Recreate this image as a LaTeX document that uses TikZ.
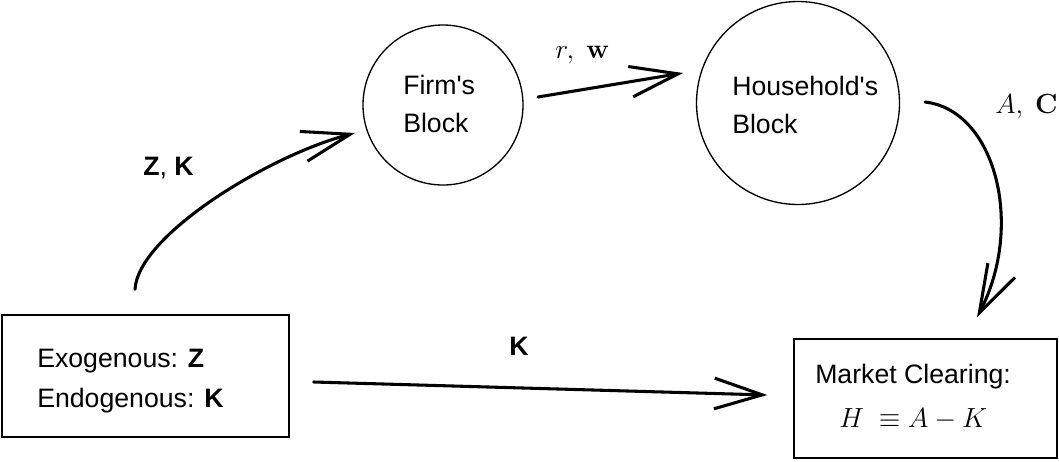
\documentclass[tikz,border=0pt]{standalone}
\usepackage[no-math]{fontspec}
\setmainfont[Ligatures=TeXOff]{Liberation Sans}
\usetikzlibrary{arrows.meta,calc}
\begin{document}
\begin{tikzpicture}[x=0.75pt,y=-0.75pt,
  txt/.style={font=\fontsize{20}{24}\selectfont, inner sep=0pt, anchor=base west},
  boxnode/.style={draw, line width=1pt, rectangle, inner sep=0pt},
  blocknode/.style={draw, line width=1pt, circle, inner sep=0pt},
  arr/.style={line width=2.3pt, line cap=round,
    -{Straight Barb[length=36pt,width=23pt,line width=2.3pt]}},
]
\useasboundingbox (0,0) rectangle (1059,461);

% boxes and blocks
\node[boxnode, minimum width=215.25pt, minimum height=91.5pt] (exo) at (145.5,376) {};
\node[boxnode, minimum width=197.25pt, minimum height=89.25pt] (mkt) at (925.5,398.5) {};
\node[blocknode, minimum size=120pt] (firm) at (443,105) {};
\node[blocknode, minimum size=152.25pt] (hh) at (798,103) {};

% texts
\node[txt] (exot) at (37,367) {Exogenous: \textbf{Z}};
\node[txt] (endot) at (37,407) {Endogenous: \textbf{K}};
\node[txt] (mktt) at (815,383) {Market Clearing:};
\node[txt] (mkte) at (839,427) {$H\ \equiv A - K$};
\node[txt] (firmt1) at (403,94) {Firm's};
\node[txt] (firmt2) at (403,132) {Block};
\node[txt] (hht1) at (732,95) {Household's};
\node[txt] (hht2) at (732,133) {Block};

% labels
\node[txt] (lzk) at (143,175) {\textbf{Z}, \textbf{K}};
\node[txt] (lk) at (509,355) {\textbf{K}};
\node[txt] (lrw) at (555,58) {$r,\ \mathbf{w}$};
\node[txt] (lac) at (995,113) {$A,\ \mathbf{C}$};

% connectors
\coordinate (zks) at ($(exo.north)+(-10.5,-25)$);
\coordinate (zke) at ($(firm.center)+(-88,28)$);
\draw[arr] (zks) .. controls (138,235) and (270,155) .. (zke);

\coordinate (rws) at ($(firm.center)+(95,-8)$);
\coordinate (rwe) at ($(hh.center)+(-115,-30)$);
\draw[arr] (rws) -- (rwe);

\coordinate (acs) at ($(hh.center)+(127,-1)$);
\coordinate (ace) at ($(mkt.north)+(51.5,-21)$);
\draw[arr] (acs) .. controls (995,110) and (1025,225) .. (ace);

\coordinate (ks) at ($(exo.east)+(24,6)$);
\coordinate (ke) at ($(mkt.west)+(-26,-3.5)$);
\draw[arr] (ks) -- (ke);
\end{tikzpicture}
\end{document}
